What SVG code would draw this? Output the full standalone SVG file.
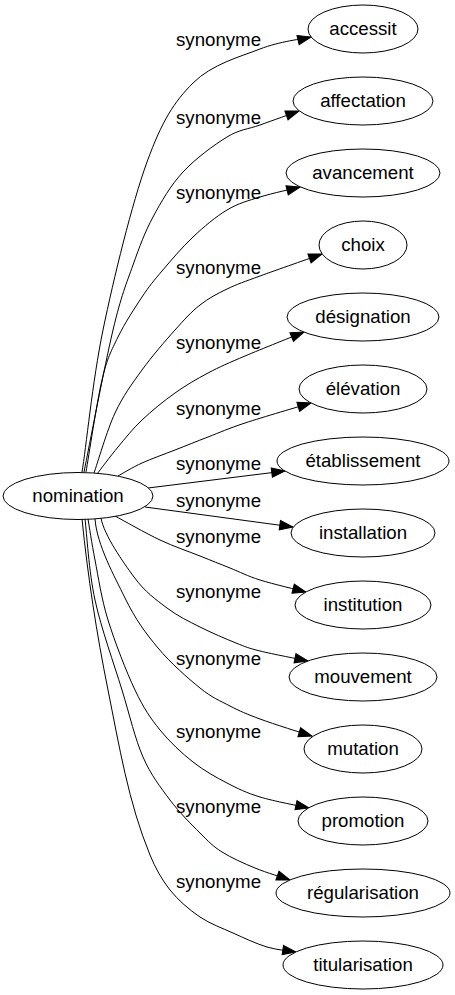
<svg xmlns="http://www.w3.org/2000/svg" width="455" height="995" viewBox="0 0 455 995">
<defs>
<marker id="arr" markerUnits="userSpaceOnUse" markerWidth="14" markerHeight="10" refX="13.3" refY="5" orient="auto" overflow="visible">
<path d="M0,0.3 L13.3,5 L0,9.7 z" fill="#000" stroke="#000" stroke-width="1"/>
</marker>
</defs>
<style>
text{font-family:"Liberation Sans",Arial,sans-serif;font-size:18.67px;fill:#000}
.node ellipse{fill:#fff;stroke:#000;stroke-width:1}
.node text{text-anchor:middle}
#edges path{fill:none;stroke:#000;stroke-width:1;marker-end:url(#arr)}
</style>
<rect width="455" height="995" fill="#fff"/>
<g id="edges">
<path d="M82,472 C86,449 92.3,381.8 103,330 C113.7,278.2 132,203.2 147,162 C162,120.8 174.2,101.8 193,83 C211.8,64.2 240.3,56.7 260,49 C279.7,41.3 302.5,39 311,37"/>
<path d="M84,472 C88.8,448.3 104.8,364.5 113,330 C121.2,295.5 126.3,283.8 133,265 C139.7,246.2 144.7,232.5 153,217 C161.3,201.5 170.7,185.3 183,172 C195.3,158.7 214.2,144.8 227,137 C239.8,129.2 248,129.3 260,125 C272,120.7 292.5,113.3 299,111"/>
<path d="M86,472 C88.7,456.7 96.7,402.5 102,380 C107.3,357.5 111.3,350.8 118,337 C124.7,323.2 134.7,308 142,297 C149.3,286 153.5,281 162,271 C170.5,261 182.2,247.2 193,237 C203.8,226.8 215.8,216.7 227,210 C238.2,203.3 247.8,200.8 260,197 C272.2,193.2 293.3,188.7 300,187"/>
<path d="M94,473 C97.5,463.3 107,430.2 115,413 C123,395.8 132,383.8 142,370 C152,356.2 165.3,340.8 175,330 C184.7,319.2 191.3,311.8 200,305 C208.7,298.2 217,293.8 227,289 C237,284.2 244.2,281.8 260,276 C275.8,270.2 311.7,257.7 322,254"/>
<path d="M97,474 C100.5,469.5 110.5,456 118,447 C125.5,438 132.5,429 142,420 C151.5,411 164,400.8 175,393 C186,385.2 196.3,379.2 208,373 C219.7,366.8 229,362.8 245,356 C261,349.2 294.2,336 304,332"/>
<path d="M118,476 C122,473.8 132.5,467.3 142,463 C151.5,458.7 164,454.3 175,450 C186,445.7 196.3,441.5 208,437 C219.7,432.5 227.8,428.7 245,423 C262.2,417.3 300,406.3 311,403"/>
<path d="M148,488 L285,471"/>
<path d="M145,507 L293,527"/>
<path d="M115,516 C122.5,520 145.8,533.3 160,540 C174.2,546.7 188.3,551.3 200,556 C211.7,560.7 220,564 230,568 C240,572 247.3,576 260,580 C272.7,584 298.3,590 306,592"/>
<path d="M101,518 C104,535 123,562 134,577 C145,592 156,599.7 167,608 C178,616.3 188.5,621.2 200,627 C211.5,632.8 226,639 236,643 C246,647 248,648 260,651 C272,654 300,659.3 308,661"/>
<path d="M95,519 C97,545 114.5,576.5 125,598 C135.5,619.5 145.5,633 158,648 C170.5,663 188,678.3 200,688 C212,697.7 220,700.8 230,706 C240,711.2 246.5,714 260,719 C273.5,724 302.5,733.2 312,736"/>
<path d="M88,519 C89.2,525.8 91.7,543.2 95,560 C98.3,576.8 101.3,598.3 108,620 C114.7,641.7 126.3,671.7 135,690 C143.7,708.3 150.3,718 160,730 C169.7,742 181.8,753.2 193,762 C204.2,770.8 215.8,777.2 227,783 C238.2,788.8 246.3,792.8 260,797 C273.7,801.2 300.8,806.2 309,808"/>
<path d="M85,519 C86.7,532.5 88.8,571.5 95,600 C101.2,628.5 114,663.8 122,690 C130,716.2 135,738.7 143,757 C151,775.3 160.5,787.3 170,800 C179.5,812.7 191.3,824.3 200,833 C208.7,841.7 212.8,846.2 222,852 C231.2,857.8 243.7,863.3 255,868 C266.3,872.7 284.2,878 290,880"/>
<path d="M82,519 C87.8,576.4 96.6,633.5 108,690 C119.2,745.7 128.4,802.5 150,855 C155.1,867.4 161.6,879.5 170,890 C178.5,900.5 188.8,909.4 200,917 C210.1,923.8 221.9,928 233,933 C244.2,938 255.5,943.5 267,947 C276.3,949.8 286.6,950.6 296,952"/>
<text x="176" y="46">synonyme</text>
<text x="176" y="124">synonyme</text>
<text x="176" y="199">synonyme</text>
<text x="176" y="274">synonyme</text>
<text x="176" y="349">synonyme</text>
<text x="176" y="415">synonyme</text>
<text x="176" y="470">synonyme</text>
<text x="176" y="507">synonyme</text>
<text x="176" y="543">synonyme</text>
<text x="176" y="598">synonyme</text>
<text x="176" y="665">synonyme</text>
<text x="176" y="738">synonyme</text>
<text x="176" y="813">synonyme</text>
<text x="176" y="888">synonyme</text>
</g>
<g id="node-nomination" class="node"><ellipse cx="78" cy="496" rx="75" ry="23.5"/><text x="78" y="502">nomination</text></g>
<g id="node-accessit" class="node"><ellipse cx="363" cy="29" rx="55" ry="24"/><text x="363" y="35">accessit</text></g>
<g id="node-affectation" class="node"><ellipse cx="363" cy="101" rx="70" ry="24"/><text x="363" y="107">affectation</text></g>
<g id="node-avancement" class="node"><ellipse cx="363" cy="173" rx="77" ry="24"/><text x="363" y="179">avancement</text></g>
<g id="node-choix" class="node"><ellipse cx="363" cy="245" rx="44" ry="24"/><text x="363" y="251">choix</text></g>
<g id="node-designation" class="node"><ellipse cx="363" cy="317" rx="76" ry="24"/><text x="363" y="323">désignation</text></g>
<g id="node-elevation" class="node"><ellipse cx="363" cy="389" rx="64" ry="24"/><text x="363" y="395">élévation</text></g>
<g id="node-etablissement" class="node"><ellipse cx="363" cy="461" rx="86" ry="24"/><text x="363" y="467">établissement</text></g>
<g id="node-installation" class="node"><ellipse cx="363" cy="533" rx="72" ry="24"/><text x="363" y="539">installation</text></g>
<g id="node-institution" class="node"><ellipse cx="363" cy="605" rx="68" ry="24"/><text x="363" y="611">institution</text></g>
<g id="node-mouvement" class="node"><ellipse cx="363" cy="677" rx="74" ry="24"/><text x="363" y="683">mouvement</text></g>
<g id="node-mutation" class="node"><ellipse cx="363" cy="749" rx="59" ry="24"/><text x="363" y="755">mutation</text></g>
<g id="node-promotion" class="node"><ellipse cx="363" cy="821" rx="65" ry="24"/><text x="363" y="827">promotion</text></g>
<g id="node-regularisation" class="node"><ellipse cx="363" cy="893" rx="87" ry="24"/><text x="363" y="899">régularisation</text></g>
<g id="node-titularisation" class="node"><ellipse cx="363" cy="965" rx="80" ry="24"/><text x="363" y="971">titularisation</text></g>
</svg>
